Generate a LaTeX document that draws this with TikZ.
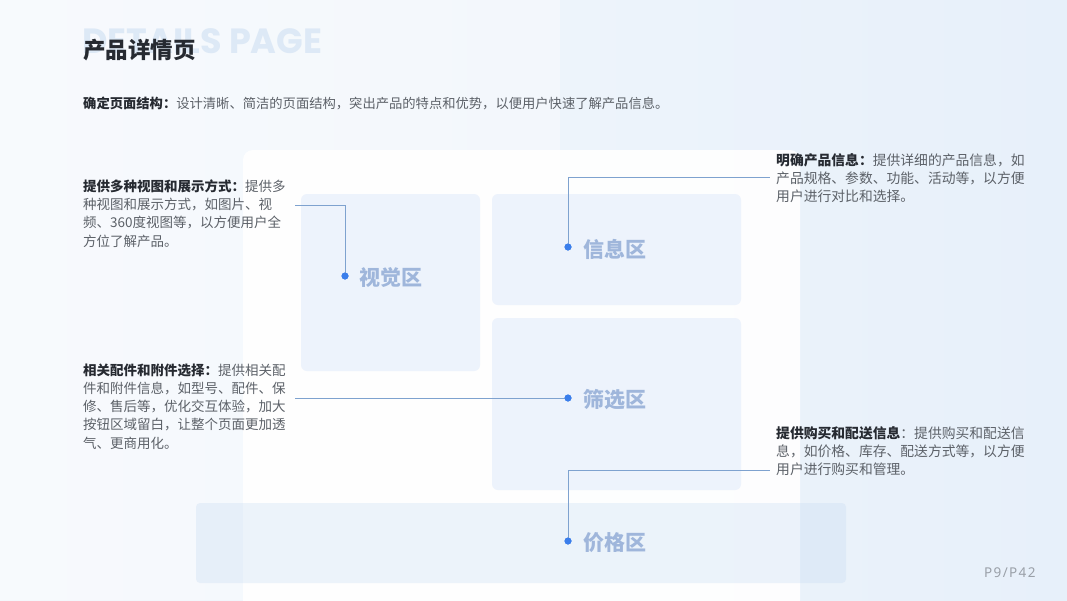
\documentclass[tikz,border=0pt]{standalone}
\usepackage{fontspec}
\setmainfont{Noto Sans CJK SC}
\newfontfamily\wmfont{Poppins}
\newfontfamily\pgfont[LetterSpace=10]{Noto Sans}
\usetikzlibrary{calc}
\definecolor{bgA}{HTML}{F4F8FC}
\definecolor{bgB}{HTML}{E7F0FA}
\definecolor{zone}{HTML}{EDF3FC}
\definecolor{band}{HTML}{C4DAF2}
\definecolor{zonetxt}{HTML}{9FB6DB}
\definecolor{linec}{HTML}{7EA2CF}
\definecolor{dotc}{HTML}{3A7EEB}
\definecolor{dark}{HTML}{262A31}
\definecolor{body}{HTML}{5C6168}
\definecolor{wm}{HTML}{DDE9F6}
\definecolor{pgc}{HTML}{9AA0A8}
\tikzset{
  zonebox/.style={fill=zone, rounded corners=6pt, draw=none},
  zonelabel/.style={anchor=west, text=zonetxt, font=\fontsize{21}{24}\selectfont\bfseries, inner sep=0},
  dotnode/.style={circle, fill=dotc, minimum size=7pt, inner sep=0},
  conn/.style={draw=linec, line width=0.8pt},
  desc/.style={anchor=north west, inner sep=0, align=left, text=body, font=\fontsize{13.5}{18.2}\selectfont},
  descr/.style={desc, font=\fontsize{13.8}{18.4}\selectfont},
}
\newcommand{\hd}[1]{{\color{dark}\bfseries #1}}
\begin{document}
\begin{tikzpicture}[x=1pt,y=-1pt]
\useasboundingbox (0,0) rectangle (1067,600);
% background
\shade[left color=bgA, right color=bgB] (0,0) rectangle (1067,600);
\fill[white, opacity=0.35] (0,0) rectangle (560,600);
% white panel
\fill[white, opacity=0.92, rounded corners=10pt] (243,150) rectangle (800,610);
% watermark and title
\node[anchor=base west, inner sep=0, text=wm, font=\wmfont\fontsize{35}{38}\selectfont\bfseries] (wm) at (82,53) {DETAILS PAGE};
\node[anchor=west, inner sep=0, text=dark, font=\fontsize{22.5}{26}\selectfont\bfseries] (title) at (83,50) {产品详情页};
\node[anchor=west, inner sep=0, text=body, font=\fontsize{13.3}{18}\selectfont] (sub) at (83,103) {\hd{确定页面结构：}设计清晰、简洁的页面结构，突出产品的特点和优势，以便用户快速了解产品信息。};
% zones
\fill[zonebox] (301,194) rectangle (480,371);
\fill[zonebox] (492,194) rectangle (741,305);
\fill[zonebox] (492,318) rectangle (741,490);
\fill[band, opacity=0.3, rounded corners=4pt] (196,503) rectangle (846,583);
% dots and labels
\node[dotnode] (d1) at (345,276) {};
\node[zonelabel] (l1) at (359,278) {视觉区};
\node[dotnode] (d2) at (568,247) {};
\node[zonelabel] (l2) at (583,249) {信息区};
\node[dotnode] (d3) at (568,398) {};
\node[zonelabel] (l3) at (583,400) {筛选区};
\node[dotnode] (d4) at (568,541) {};
\node[zonelabel] (l4) at (583,543) {价格区};
% descriptions
\node[desc] (t1) at (83,179.5) {\hd{提供多种视图和展示方式：}提供多\\种视图和展示方式，如图片、视\\频、360度视图等，以方便用户全\\方位了解产品。};
\node[desc] (t2) at (83,363.5) {\hd{相关配件和附件选择：}提供相关配\\件和附件信息，如型号、配件、保\\修、售后等，优化交互体验，加大\\按钮区域留白，让整个页面更加透\\气、更商用化。};
\node[descr] (t3) at (776,153) {\hd{明确产品信息：}提供详细的产品信息，如\\产品规格、参数、功能、活动等，以方便\\用户进行对比和选择。};
\node[descr] (t4) at (776,426) {\hd{提供购买和配送信息}：提供购买和配送信\\息，如价格、库存、配送方式等，以方便\\用户进行购买和管理。};
% connectors
\coordinate (c1) at (295,205);
\coordinate (c2) at (770,177);
\coordinate (c3) at (295,398);
\coordinate (c4) at (770,470);
\draw[conn] (c1) -| (d1.center);
\draw[conn] (d2.center) |- (c2);
\draw[conn] (d3.center) -- (c3);
\draw[conn] (d4.center) |- (c4);
\node[dotnode] at (d1) {};
\node[dotnode] at (d2) {};
\node[dotnode] at (d3) {};
\node[dotnode] at (d4) {};
% page number
\node[anchor=west, inner sep=0, text=pgc, font=\pgfont\fontsize{13.5}{15}\selectfont] (pg) at (984,573) {P9/P42};
\end{tikzpicture}
\end{document}
